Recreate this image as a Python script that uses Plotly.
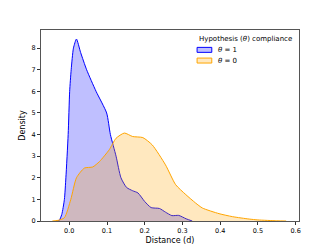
import plotly.graph_objects as go

blue_x = [-0.035, -0.027, -0.02, -0.013, -0.009, -0.003, 0.001, 0.005, 0.011, 0.019, 0.03, 0.046, 0.071, 0.099, 0.109, 0.124, 0.137, 0.152, 0.168, 0.182, 0.2, 0.217, 0.239, 0.255, 0.272, 0.29, 0.31, 0.326]
blue_y = [0, 0.02, 0.3, 1.0, 2.0, 4.0, 6.0, 7.0, 8.0, 8.42, 7.8, 7.0, 6.0, 5.0, 4.0, 3.0, 2.0, 1.55, 1.4, 1.3, 0.9, 0.62, 0.58, 0.41, 0.25, 0.26, 0.1, 0]

orange_x = [-0.045, -0.03, -0.013, 0.004, 0.019, 0.04, 0.062, 0.08, 0.106, 0.124, 0.146, 0.168, 0.195, 0.22, 0.255, 0.282, 0.309, 0.335, 0.353, 0.397, 0.433, 0.477, 0.5, 0.55, 0.575]
orange_y = [0, 0.03, 0.15, 1.0, 2.0, 2.45, 2.5, 2.75, 3.3, 3.83, 4.07, 3.91, 3.86, 3.52, 2.6, 1.68, 1.22, 0.83, 0.6, 0.34, 0.2, 0.09, 0.05, 0.01, 0]

x_ticks = [0.0, 0.1, 0.2, 0.3, 0.4, 0.5, 0.6]
y_ticks = [0, 1, 2, 3, 4, 5, 6, 7, 8]

legend_title = "Hypothesis (<i>θ</i>) compliance"
legend_labels = ["<i>θ</i> = 1", "<i>θ</i> = 0"]
line_colors = ["blue", "orange"]
fill_colors = ["rgba(0,0,255,0.25)", "rgba(255,165,0,0.25)"]

fig = go.Figure()
fig.add_trace(go.Scatter(x=blue_x, y=blue_y, mode="lines", fill="tozeroy",
                         line=dict(color=line_colors[0], width=1, shape="spline", smoothing=0.6),
                         fillcolor=fill_colors[0], name=legend_labels[0], showlegend=False))
fig.add_trace(go.Scatter(x=orange_x, y=orange_y, mode="lines", fill="tozeroy",
                         line=dict(color=line_colors[1], width=1, shape="spline", smoothing=0.6),
                         fillcolor=fill_colors[1], name=legend_labels[1], showlegend=False))

# manual legend (matplotlib-style patches)
fig.add_annotation(xref="paper", yref="paper", x=0.603, y=0.953, xanchor="left", yanchor="middle",
                   text=legend_title, showarrow=False, font=dict(size=7))
patch_y = [(0.883, 0.909), (0.827, 0.853)]
label_y = [0.896, 0.840]
for i in range(2):
    fig.add_shape(type="rect", xref="paper", yref="paper", x0=0.605, x1=0.662,
                  y0=patch_y[i][0], y1=patch_y[i][1],
                  line=dict(color=line_colors[i], width=1), fillcolor=fill_colors[i])
    fig.add_annotation(xref="paper", yref="paper", x=0.68, y=label_y[i], xanchor="left", yanchor="middle",
                       text=legend_labels[i], showarrow=False, font=dict(size=7))

# page body has an 8px margin, so the figure is sized to fit the 332x249 window
fig.update_layout(
    width=324, height=241,
    margin=dict(l=33, r=33, t=22, b=28),
    paper_bgcolor="white", plot_bgcolor="white",
    font=dict(family="DejaVu Sans", size=7, color="black"),
    showlegend=False,
    xaxis=dict(range=[-0.075, 0.609], tickvals=x_ticks, ticktext=["%.1f" % v for v in x_ticks],
               showgrid=False, zeroline=False, showline=True, mirror=True, automargin=False,
               linecolor="#555555", linewidth=1, ticks="outside", ticklen=3, tickcolor="#333",
               tickfont=dict(size=6.5),
               title=dict(text="Distance (d)", font=dict(size=8), standoff=3)),
    yaxis=dict(range=[0, 8.84], tickvals=y_ticks,
               showgrid=False, zeroline=False, showline=True, mirror=True, automargin=False,
               linecolor="#555555", linewidth=1, ticks="outside", ticklen=3, tickcolor="#333",
               tickfont=dict(size=6.5),
               title=dict(text="Density", font=dict(size=8), standoff=4)),
)

fig.write_html("out.html")
